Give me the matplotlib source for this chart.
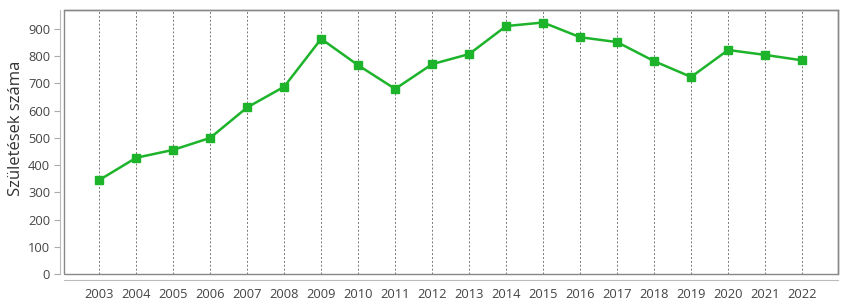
import matplotlib.pyplot as plt
from matplotlib.patches import Rectangle

years = list(range(2003, 2023))
births = [345, 427, 456, 500, 612, 688, 864, 767, 680, 771,
          808, 911, 924, 870, 852, 782, 724, 823, 805, 785]
y_ticks = list(range(0, 1000, 100))

plt.rcParams['font.family'] = ['Open Sans', 'DejaVu Sans']

fig = plt.figure(figsize=(8.5, 3), dpi=100)
ax = fig.add_axes([0.0753, 0.0867, 0.9106, 0.88])

for yr in years:
    ax.axvline(yr, color="#777777", linewidth=0.7, linestyle=(0, (2, 2)), zorder=1)

ax.plot(years, births, color="#1db32a", linewidth=1.8, marker="s",
        markersize=5.5, zorder=3)

ax.set_xlim(2002.05, 2022.97)
ax.set_ylim(0, 970)
ax.set_xticks(years)
ax.set_yticks(y_ticks)
ax.tick_params(axis="x", length=0, pad=6, labelsize=9.3, labelcolor="#444444")
ax.tick_params(axis="y", length=4, width=0.8, color="#aaaaaa", pad=3,
               labelsize=9.3, labelcolor="#444444")

ax.set_ylabel("Születések száma", fontsize=12, color="#333333")
ax.yaxis.set_label_coords(-0.052, 0.55)

for side in ["top", "right"]:
    ax.spines[side].set_color("#888888")
    ax.spines[side].set_linewidth(1.0)
ax.spines["left"].set_position(("outward", 3))
ax.spines["bottom"].set_position(("outward", 4))
ax.spines["left"].set_color("#bbbbbb")
ax.spines["bottom"].set_color("#bbbbbb")
ax.add_patch(Rectangle((0, 0), 1, 1, transform=ax.transAxes, fill=False,
                       edgecolor="#888888", linewidth=1.0, clip_on=False, zorder=4))

fig.savefig("out.png", dpi=100)
